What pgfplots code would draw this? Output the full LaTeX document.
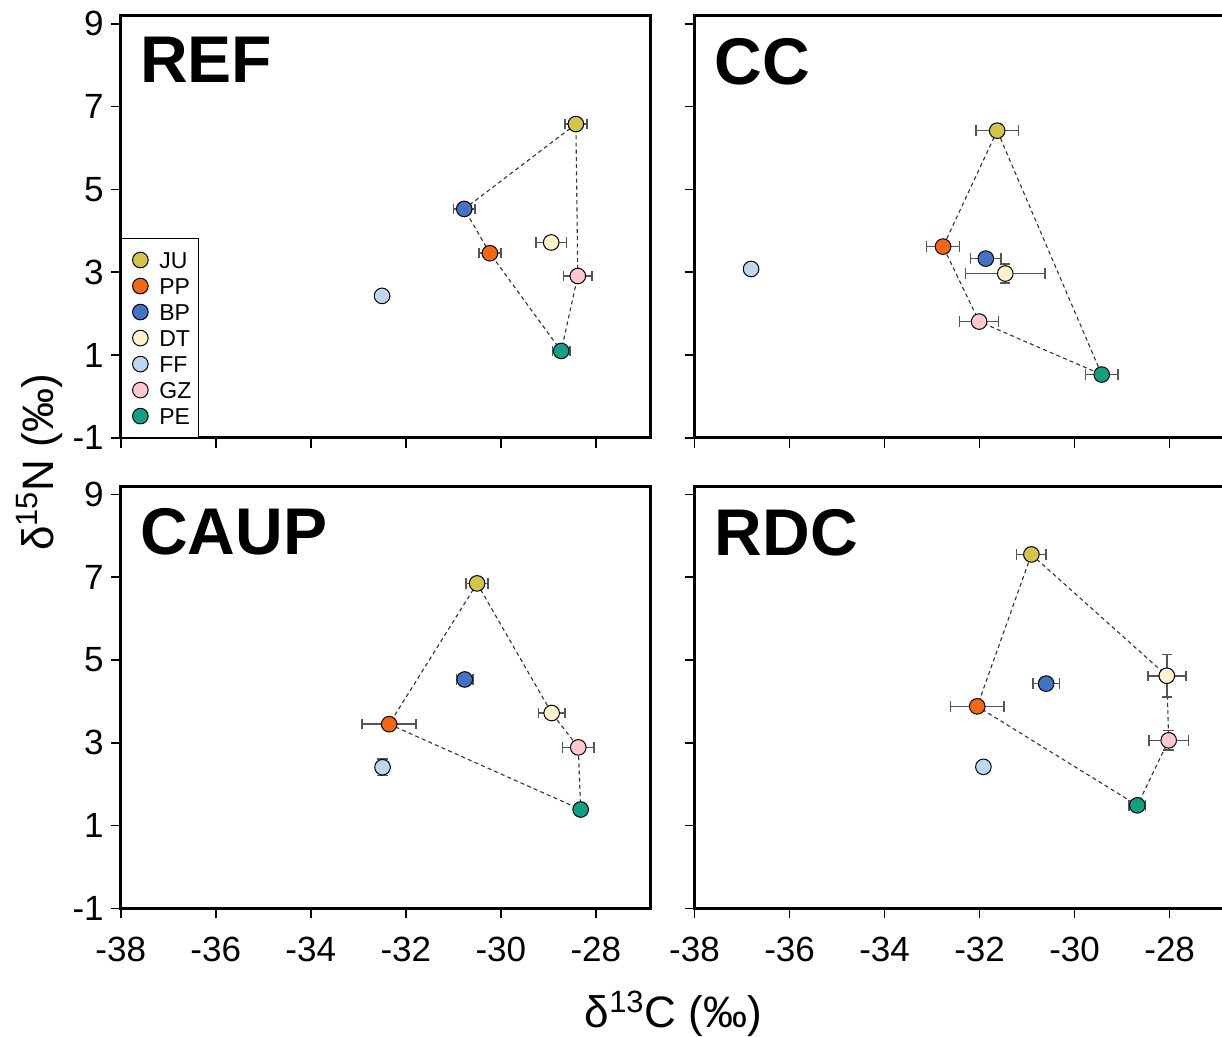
\documentclass[border=0pt]{standalone}
\usepackage{fontspec}
\setmainfont{Liberation Sans}
\usepackage{pgfplots}
\pgfplotsset{compat=1.18}
\definecolor{cJU}{RGB}{212,196,74}
\definecolor{cPP}{RGB}{245,104,18}
\definecolor{cBP}{RGB}{68,114,196}
\definecolor{cDT}{RGB}{255,242,204}
\definecolor{cFF}{RGB}{189,215,238}
\definecolor{cGZ}{RGB}{255,199,206}
\definecolor{cPE}{RGB}{19,160,130}
\definecolor{errc}{RGB}{85,85,85}
\tikzset{ttl/.style={anchor=north west, inner sep=0pt, font=\fontsize{33}{40}\selectfont\bfseries}}
\pgfplotsset{
  panel/.style={
    scale only axis, width=264.5pt, height=210.85pt,
    xmin=-38, xmax=-26.86, ymin=-1, ymax=9.19,
    xtick={-38,-36,-34,-32,-30,-28}, ytick={-1,1,3,5,7,9},
    tick align=outside, tick pos=left,
    major tick length=5pt,
    every tick/.style={black, line width=0.8pt},
    axis line style={line width=1.5pt},
    ticklabel style={font=\fontsize{17.5}{20}\selectfont},
    xticklabel style={yshift=-6pt},
    /pgf/number format/assume math mode=true,
    clip=false,
    legend image code/.code={\path[draw=none,fill=none] (0pt,-4pt) rectangle (13pt,4pt); \draw[##1] plot coordinates {(7pt,0pt)};},
    legend style={at={(0,0)}, anchor=south west, draw=black, line width=0.6pt,
      font=\fontsize{11.5}{13}\selectfont, inner xsep=2.5pt, inner ysep=5.5pt,
      row sep=2.8pt, column sep=2.5pt, cells={anchor=west},
      nodes={inner sep=1pt, text height=8.2pt, text depth=0pt}},
    error bars/error mark=|,
    error bars/error mark options={errc, line width=0.8pt, mark size=2.6pt},
  },
  pt/.style={only marks, mark=*, mark size=3.9pt,
    mark options={draw=black, line width=0.5pt, fill=#1},
    error bars/.cd, x dir=both, x explicit, y dir=both, y explicit,
    error bar style={errc, line width=0.8pt}},
  hull/.style={no marks, forget plot, black!80, line width=0.55pt, dash pattern=on 2pt off 1.6pt},
}
\begin{document}
\begin{tikzpicture}
% ---------------- REF ----------------
\begin{axis}[panel, at={(60.35pt,-218.85pt)}, anchor=south west, xticklabels={}]
\addplot[hull] coordinates {(-28.42,6.58) (-30.77,4.53) (-30.23,3.46) (-28.73,1.10) (-28.38,2.91) (-28.42,6.58)};
\addplot[pt=cJU] coordinates {(-28.42,6.58) +- (0.23,0)}; \addlegendentry{JU}
\addplot[pt=cPP] coordinates {(-30.23,3.46) +- (0.23,0)}; \addlegendentry{PP}
\addplot[pt=cBP] coordinates {(-30.77,4.53) +- (0.23,0)}; \addlegendentry{BP}
\addplot[pt=cDT] coordinates {(-28.94,3.72) +- (0.32,0)}; \addlegendentry{DT}
\addplot[pt=cFF] coordinates {(-32.50,2.43) +- (0,0)}; \addlegendentry{FF}
\addplot[pt=cGZ] coordinates {(-28.38,2.91) +- (0.30,0)}; \addlegendentry{GZ}
\addplot[pt=cPE] coordinates {(-28.73,1.10) +- (0.18,0)}; \addlegendentry{PE}
\node[ttl] at (rel axis cs:0,1) [xshift=9.5pt, yshift=-10.5pt] {REF};
\end{axis}
% ---------------- CC ----------------
\begin{axis}[panel, at={(347.1pt,-218.85pt)}, anchor=south west, xticklabels={}, yticklabels={}]
\addplot[hull] coordinates {(-31.63,6.42) (-32.77,3.62) (-32.01,1.81) (-29.43,0.53) (-31.63,6.42)};
\addplot[pt=cJU] coordinates {(-31.63,6.42) +- (0.45,0)};
\addplot[pt=cPP] coordinates {(-32.77,3.62) +- (0.35,0)};
\addplot[pt=cBP] coordinates {(-31.87,3.33) +- (0.32,0)};
\addplot[pt=cDT] coordinates {(-31.46,2.97) +- (0.84,0.23)};
\addplot[pt=cFF] coordinates {(-36.81,3.08) +- (0,0)};
\addplot[pt=cGZ] coordinates {(-32.01,1.81) +- (0.41,0)};
\addplot[pt=cPE] coordinates {(-29.43,0.53) +- (0.34,0)};
\node[ttl] at (rel axis cs:0,1) [xshift=10pt, yshift=-11pt] {CC};
\end{axis}
% ---------------- CAUP ----------------
\begin{axis}[panel, at={(60.35pt,-454pt)}, anchor=south west]
\addplot[hull] coordinates {(-30.50,6.85) (-32.35,3.45) (-28.32,1.39) (-28.37,2.89) (-28.93,3.72) (-30.50,6.85)};
\addplot[pt=cJU] coordinates {(-30.50,6.85) +- (0.23,0)};
\addplot[pt=cPP] coordinates {(-32.35,3.45) +- (0.57,0)};
\addplot[pt=cBP] coordinates {(-30.76,4.53) +- (0.17,0)};
\addplot[pt=cDT] coordinates {(-28.93,3.72) +- (0.28,0)};
\addplot[pt=cFF] coordinates {(-32.49,2.41) +- (0,0.20)};
\addplot[pt=cGZ] coordinates {(-28.37,2.89) +- (0.33,0)};
\addplot[pt=cPE] coordinates {(-28.32,1.39) +- (0,0)};
\node[ttl] at (rel axis cs:0,1) [xshift=9.5pt, yshift=-10.5pt] {CAUP};
\end{axis}
% ---------------- RDC ----------------
\begin{axis}[panel, at={(347.1pt,-454pt)}, anchor=south west, yticklabels={}]
\addplot[hull] coordinates {(-30.91,7.55) (-28.06,4.62) (-28.02,3.06) (-28.68,1.49) (-32.05,3.88) (-30.91,7.55)};
\addplot[pt=cJU] coordinates {(-30.91,7.55) +- (0.31,0)};
\addplot[pt=cPP] coordinates {(-32.05,3.88) +- (0.56,0)};
\addplot[pt=cBP] coordinates {(-30.60,4.43) +- (0.28,0)};
\addplot[pt=cDT] coordinates {(-28.06,4.62) +- (0.40,0.51)};
\addplot[pt=cFF] coordinates {(-31.92,2.42) +- (0,0)};
\addplot[pt=cGZ] coordinates {(-28.02,3.06) +- (0.42,0.24)};
\addplot[pt=cPE] coordinates {(-28.68,1.49) +- (0.17,0)};
\node[ttl] at (rel axis cs:0,1) [xshift=10pt, yshift=-11pt] {RDC};
\end{axis}
% axis labels
\node[anchor=base, font=\fontsize{22}{26}\selectfont] at (336.5pt,-513.5pt) {δ\textsuperscript{13}C (‰)};
\node[anchor=base, rotate=90, font=\fontsize{22}{26}\selectfont] at (26.5pt,-231pt) {δ\textsuperscript{15}N (‰)};
\pgfresetboundingbox
\path[use as bounding box] (0,0) rectangle (610.7pt,-518pt);
\end{tikzpicture}
\end{document}
